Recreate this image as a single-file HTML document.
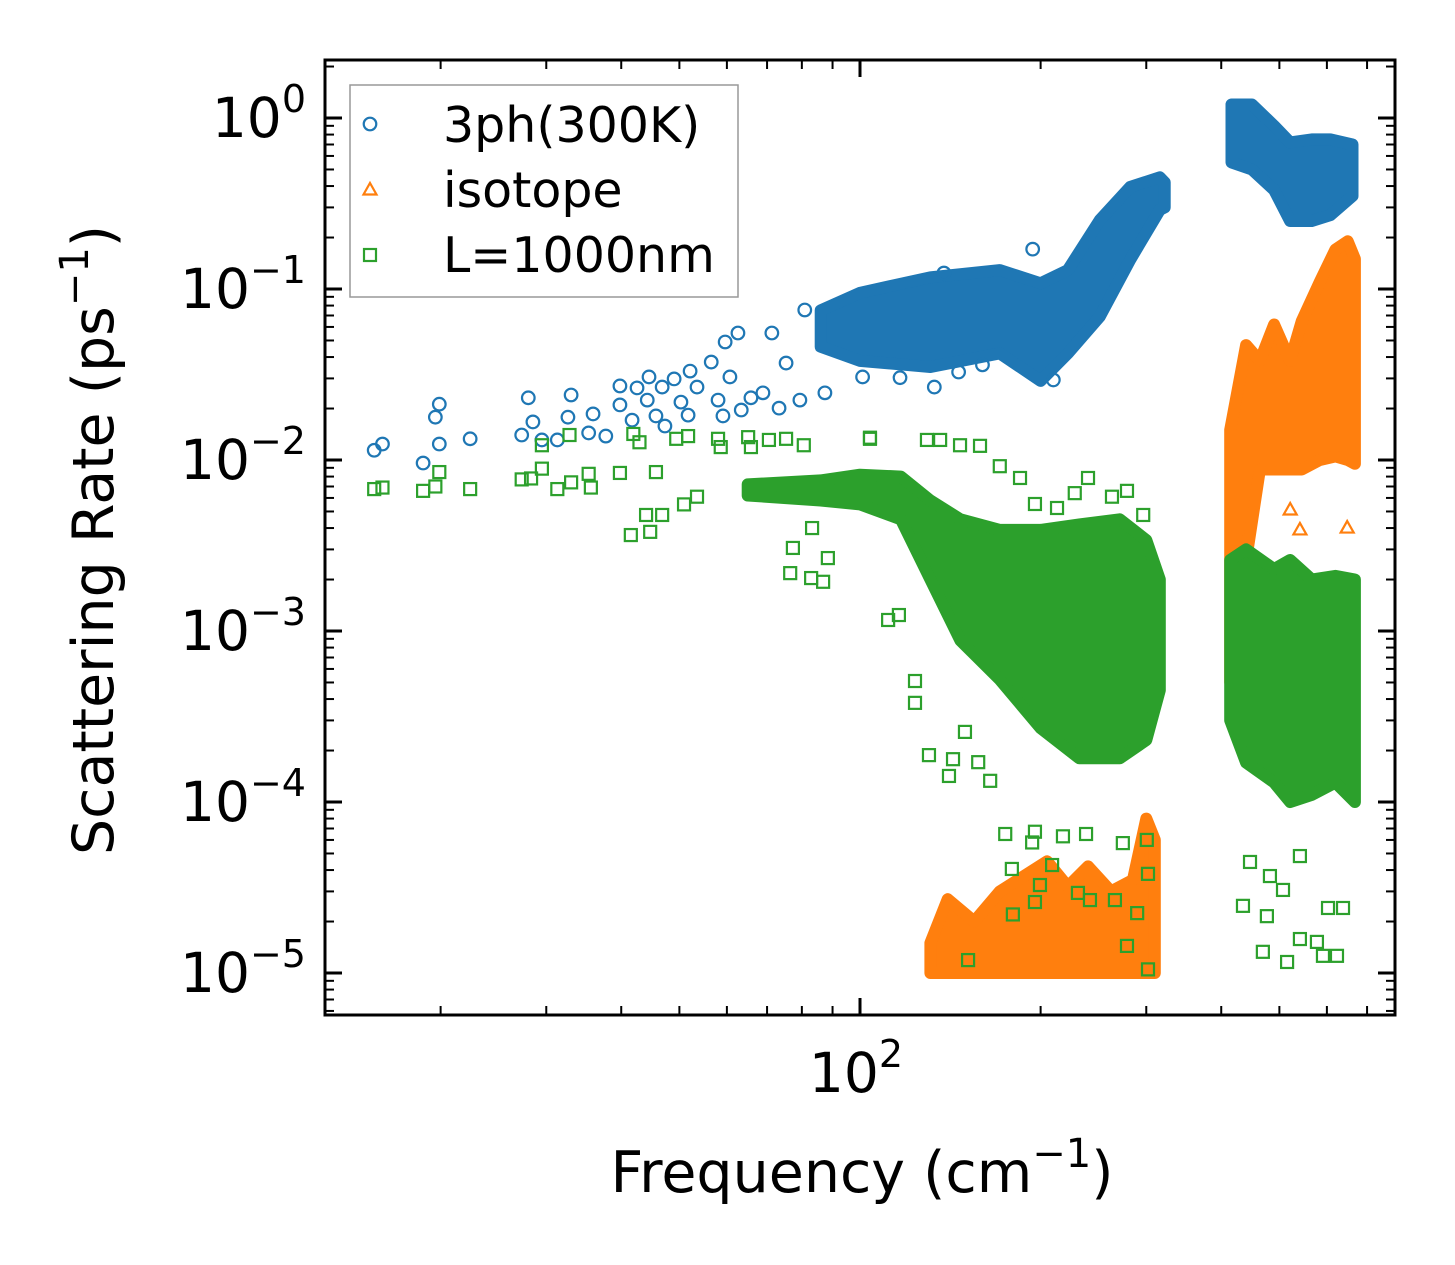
<!DOCTYPE html>
<html><head><meta charset="utf-8"><style>
html,body{margin:0;padding:0;background:#fff;}
svg{display:block;font-family:"DejaVu Sans","Liberation Sans",sans-serif;}
</style></head><body>
<svg id="chart" width="1455" height="1265" viewBox="0 0 1455 1265" xmlns="http://www.w3.org/2000/svg">
<defs><clipPath id="plotclip"><rect x="325" y="60" width="1070" height="955"/></clipPath></defs>
<g id="marks" clip-path="url(#plotclip)"></g>
<g id="axes"></g>
</svg>
<script>
// ---- data ----
const blueBandF  = [86, 100, 131, 171, 200, 222, 251, 282, 316, 322];
const blueBandLo = [0.046, 0.038, 0.035, 0.042, 0.029, 0.042, 0.069, 0.148, 0.29, 0.30];
const blueBandHi = [0.075, 0.095, 0.117, 0.129, 0.108, 0.129, 0.253, 0.395, 0.45, 0.42];
const blueBand2F  = [416, 450, 490, 521, 566, 608, 662];
const blueBand2Lo = [0.55, 0.5, 0.38, 0.25, 0.25, 0.27, 0.35];
const blueBand2Hi = [1.2, 1.2, 0.9, 0.72, 0.75, 0.75, 0.7];
const bluePtsF = [15.5,16.0,18.7,19.6,19.9,19.9,22.4,27.3,28.0,28.5,29.5,31.3,32.6,33.0,35.3,35.9,37.7,39.8,39.8,41.7,42.5,44.5,44.2,46.8,45.7,47.3,49.0,50.3,51.7,52.1,53.5,56.5,58.0,59.1,59.6,60.7,62.6,63.4,65.8,68.9,73.3,71.3,75.3,79.4,80.9,87.4,101,116.6,133,146,160,210,194,138];
const bluePtsR = [.0114,.0124,.0096,.0178,.0212,.0124,.0133,.0140,.0231,.0167,.0131,.0131,.0178,.024,.0144,.0186,.0138,.0271,.021,.0171,.0264,.0306,.0224,.0267,.0181,.0158,.0298,.0218,.0183,.0331,.0267,.0374,.0224,.0181,.049,.0306,.0553,.0196,.0231,.0247,.0201,.0553,.0369,.0224,.0754,.0247,.0306,.0303,.0267,.0327,.036,.0294,.171,.124];

const orangeBandF  = [131, 140, 155, 171, 190, 205, 222, 240, 262, 285, 300, 310];
const orangeBandLo = [1e-5,1e-5,1e-5,1e-5,1e-5,1e-5,1e-5,1e-5,1e-5,1e-5,1e-5,1e-5];
const orangeBandHi = [1.5e-5, 2.7e-5, 2.0e-5, 3.0e-5, 3.8e-5, 4.5e-5, 3.2e-5, 4.2e-5, 3.0e-5, 3.5e-5, 8e-5, 6e-5];
const orangeBand2F  = [414, 440, 464, 490, 521, 545, 584, 620, 650, 668];
const orangeBand2Lo = [5e-4, 0.0026, 0.0088, 0.0088, 0.0088, 0.0088, 0.01, 0.0105, 0.01, 0.0095];
const orangeBand2Hi = [0.015, 0.047, 0.038, 0.062, 0.038, 0.065, 0.11, 0.17, 0.19, 0.15];
const orangePtsF = [521.2, 541, 648.6, 430, 421.7];
const orangePtsR = [0.0051, 0.0039, 0.004, 0.0034, 0.00228];

const greenBandF  = [65, 86, 100, 117, 131, 147, 171, 200, 232, 271, 300, 316];
const greenBandLo = [0.0062, 0.0058, 0.0055, 0.0045, 0.002, 8.8e-4, 5.2e-4, 2.7e-4, 1.8e-4, 1.8e-4, 2.3e-4, 4.5e-4];
const greenBandHi = [0.0072, 0.0076, 0.0082, 0.0080, 0.0058, 0.0045, 0.0039, 0.0039, 0.0042, 0.0045, 0.0034, 0.002];
const greenBand2F  = [414, 440, 490, 521, 566, 620, 668];
const greenBand2Lo = [3e-4, 1.7e-4, 1.3e-4, 1e-4, 1.1e-4, 1.3e-4, 1e-4];
const greenBand2Hi = [0.0026, 0.003, 0.0023, 0.0026, 0.002, 0.0021, 0.002];
const greenPtsF = [15.5,16.0,18.7,19.6,19.9,22.4,27.3,28.3,29.5,29.5,31.3,33.0,32.8,35.3,35.6,39.8,41.9,42.9,41.5,44.0,44.7,46.8,45.7,49.4,51.7,50.9,53.5,58.0,58.6,65.1,65.8,70.5,75.3,80.6,76.5,82.9,86.8,77.3,83.2,88.4,103.9,
 111.4,116.1,123.5,123.5,130.3,140.7,142.9,149.6,157.4,164.8,174.6,179.1,195.7,193.6,217.9,238.1,151.4,179.8,195.7,230.8,241.7,266,274.2,300.6,302,302,278.6,289.7,209,199.5,
 103.9,129.3,158.5,171,184.8,239.9,228,263,278.6,296.5,213,195.7,136,146.8,
 434.8,469.3,515,476.6,507,541,577.5,591,623.7,602.6,638.3,446.7,482.2,541];
const greenPtsR = [.00676,.0069,.0066,.0070,.0085,.00676,.0077,.0078,.0089,.0122,.00676,.0074,.014,.0083,.0069,.0084,.0142,.0127,.00364,.00477,.0038,.00477,.0085,.0133,.0138,.0055,.0061,.0133,.0119,.0136,.0119,.0131,.0133,.0122,.00218,.00204,.00194,.00306,.004,.00267,.0133,
 .00116,.00124,5.1e-4,3.8e-4,1.88e-4,1.42e-4,1.78e-4,2.57e-4,1.71e-4,1.33e-4,6.5e-5,4.06e-5,6.7e-5,5.8e-5,6.3e-5,6.5e-5,1.19e-5,2.2e-5,2.6e-5,2.94e-5,2.67e-5,2.67e-5,5.75e-5,6.0e-5,3.8e-5,1.05e-5,1.44e-5,2.24e-5,4.28e-5,3.27e-5,
 .0135,.0131,.0121,.0092,.00785,.00785,.0064,.0061,.0066,.00477,.00524,.00553,.0131,.0122,
 2.47e-5,1.33e-5,1.16e-5,2.15e-5,3.06e-5,1.58e-5,1.52e-5,1.26e-5,1.26e-5,2.4e-5,2.4e-5,4.46e-5,3.69e-5,4.83e-5];

const yTickExps = [0, -1, -2, -3, -4, -5];
const xTickVals = [100];

// ---- axis functions ----
const X0 = 325, X1 = 1395, Y0 = 60, Y1 = 1015;
function xs(f){ return 860 + 600 * Math.log10(f / 100); }
function ys(r){ return 118 - 171 * Math.log10(r); }

const NS = 'http://www.w3.org/2000/svg';
const marks = document.getElementById('marks');
const axes = document.getElementById('axes');
function mk(tag, attrs, parent){
  const e = document.createElementNS(NS, tag);
  for (const k in attrs) e.setAttribute(k, attrs[k]);
  parent.appendChild(e);
  return e;
}
const COL = {blue:'#1f77b4', orange:'#ff7f0e', green:'#2ca02c'};

function band(F, Lo, Hi, color, name){
  let d = '';
  for (let i = 0; i < F.length; i++) d += (i ? 'L' : 'M') + xs(F[i]).toFixed(1) + ' ' + ys(Hi[i]).toFixed(1);
  for (let i = F.length - 1; i >= 0; i--) d += 'L' + xs(F[i]).toFixed(1) + ' ' + ys(Lo[i]).toFixed(1);
  const p = mk('path', {d: d + 'Z', fill: color, stroke: color, 'stroke-width': 12, 'stroke-linejoin': 'round'}, marks);
  
  
}
function marker(kind, cx, cy, color, parent){
  let e;
  if (kind === 'circle') e = mk('circle', {cx: cx, cy: cy, r: 6.3, fill: 'none', stroke: color, 'stroke-width': 2.2}, parent);
  else if (kind === 'square') e = mk('rect', {x: cx - 6, y: cy - 6, width: 12, height: 12, fill: 'none', stroke: color, 'stroke-width': 2.2}, parent);
  else e = mk('polygon', {points: `${cx},${cy-7} ${cx+6.5},${cy+4.5} ${cx-6.5},${cy+4.5}`, fill: 'none', stroke: color, 'stroke-width': 2.2}, parent);
  return e;
}
function pts(F, R, kind, color, name){
  for (let i = 0; i < F.length; i++){
    const e = marker(kind, xs(F[i]), ys(R[i]), color, marks);
    
    
  }
}
band(blueBandF, blueBandLo, blueBandHi, COL.blue, 'threeph-band-low');
band(blueBand2F, blueBand2Lo, blueBand2Hi, COL.blue, 'threeph-band-high');
pts(bluePtsF, bluePtsR, 'circle', COL.blue, 'threeph-point');
band(orangeBandF, orangeBandLo, orangeBandHi, COL.orange, 'isotope-band-low');
band(orangeBand2F, orangeBand2Lo, orangeBand2Hi, COL.orange, 'isotope-band-high');
pts(orangePtsF, orangePtsR, 'triangle', COL.orange, 'isotope-point');
band(greenBandF, greenBandLo, greenBandHi, COL.green, 'boundary-band-low');
band(greenBand2F, greenBand2Lo, greenBand2Hi, COL.green, 'boundary-band-high');
pts(greenPtsF, greenPtsR, 'square', COL.green, 'boundary-point');

// ---- frame and ticks ----
const frame = mk('rect', {x: X0, y: Y0, width: X1 - X0, height: Y1 - Y0, fill: 'none', stroke: '#000', 'stroke-width': 3}, axes);


function tick(x1, y1, x2, y2, w){ mk('line', {x1, y1, x2, y2, stroke: '#000', 'stroke-width': w}, axes); }
for (let e = 1; e >= -6; e--){
  for (let m = 1; m <= 9; m++){
    const y = ys(m * Math.pow(10, e));
    if (y < Y0 + 1 || y > Y1 - 1) continue;
    const L = m === 1 ? 17 : 9, w = m === 1 ? 3 : 2;
    tick(X0, y, X0 + L, y, w); tick(X1, y, X1 - L, y, w);
  }
}
for (let e = 1; e <= 2; e++){
  for (let m = 1; m <= 9; m++){
    const x = xs(m * Math.pow(10, e));
    if (x < X0 + 1 || x > X1 - 1) continue;
    const L = m === 1 ? 17 : 9, w = m === 1 ? 3 : 2;
    tick(x, Y1, x, Y1 - L, w); tick(x, Y0, x, Y0 + L, w);
  }
}
yTickExps.forEach(e => {
  const t = mk('text', {x: 306, y: ys(Math.pow(10, e)) + 19, 'text-anchor': 'end', 'font-size': 55, fill: '#000'}, axes);
  
  
  t.innerHTML = '10<tspan dy="-25" font-size="38">' + (e < 0 ? '\u2212' + (-e) : e) + '</tspan>';
});
xTickVals.forEach(v => {
  const t = mk('text', {x: xs(v) - 4, y: 1092, 'text-anchor': 'middle', 'font-size': 55, fill: '#000'}, axes);
  
  
  t.innerHTML = '10<tspan dy="-25" font-size="38">' + Math.round(Math.log10(v)) + '</tspan>';
});
</script>
<script>
(function(){
  const NS='http://www.w3.org/2000/svg';
  const svg=document.getElementById('chart');
  const g=document.createElementNS(NS,'g');
  svg.appendChild(g);
  g.innerHTML =
   '<text x="862" y="1192" text-anchor="middle" font-size="57">Frequency (cm<tspan dy="-25" font-size="40">\u22121</tspan><tspan dy="25">)</tspan></text>' +
   '<text transform="translate(113,540) rotate(-90)" text-anchor="middle" font-size="57">Scattering Rate (ps<tspan dy="-25" font-size="40">\u22121</tspan><tspan dy="25">)</tspan></text>' +
   '<g>' +
   '<rect x="350" y="85" width="388" height="212" fill="#fff" fill-opacity="0.8" stroke="#999" stroke-width="1.5"/>' +
   '<g><circle cx="370" cy="124" r="6.3" fill="none" stroke="#1f77b4" stroke-width="2.2"/><text x="443" y="142" font-size="49">3ph(300K)</text></g>' +
   '<g><polygon points="370,183 376.5,194.5 363.5,194.5" fill="none" stroke="#ff7f0e" stroke-width="2.2"/><text x="443" y="207" font-size="49">isotope</text></g>' +
   '<g><rect x="364" y="249" width="12" height="12" fill="none" stroke="#2ca02c" stroke-width="2.2"/><text x="443" y="272" font-size="49">L=1000nm</text></g>' +
   '</g>';
})();
</script>
</body></html>
